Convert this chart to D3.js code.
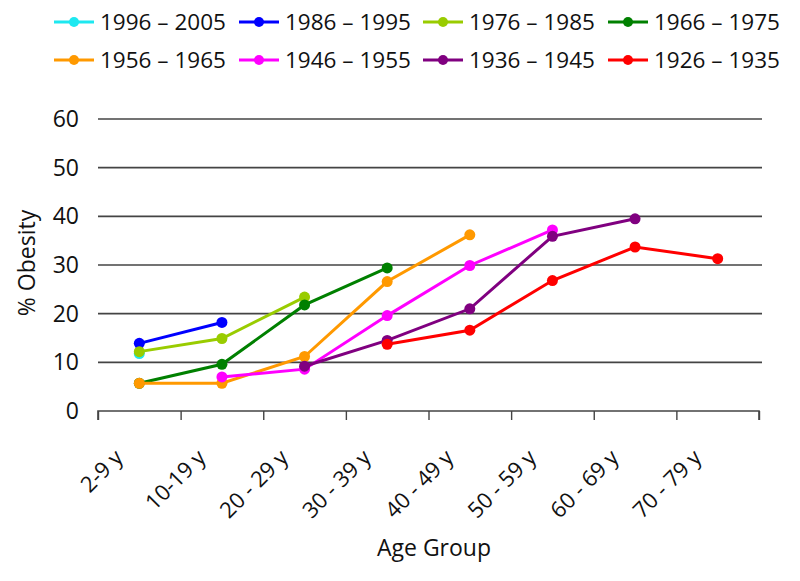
<!DOCTYPE html>
<html>
<head>
<meta charset="utf-8">
<script src="https://cdn.jsdelivr.net/npm/d3@7"></script>
<style>
  body { margin: 0; background: #fff; }
  text { font-family: "Open Sans", sans-serif; fill: #111; }
</style>
</head>
<body>
<div id="chart"></div>
<script>
// Age groups on the x axis
const ageGroups = ['2-9 y', '10-19 y', '20 - 29 y', '30 - 39 y', '40 - 49 y', '50 - 59 y', '60 - 69 y', '70 - 79 y'];
const yTicks = [0, 10, 20, 30, 40, 50, 60];

// Birth cohorts (legend order)
const cohorts = ['1996 – 2005', '1986 – 1995', '1976 – 1985', '1966 – 1975',
                 '1956 – 1965', '1946 – 1955', '1936 – 1945', '1926 – 1935'];
const cohortColors = ['#1ee8f0', '#0000ff', '#99cc00', '#008000', '#ff9900', '#ff00ff', '#800080', '#ff0000'];

// % obesity per age group, null = no data
const c1996 = [11.8, null, null, null, null, null, null, null];
const c1986 = [13.9, 18.2, null, null, null, null, null, null];
const c1976 = [12.2, 14.9, 23.4, null, null, null, null, null];
const c1966 = [5.7, 9.6, 21.8, 29.4, null, null, null, null];
const c1956 = [5.7, 5.7, 11.2, 26.6, 36.2, null, null, null];
const c1946 = [null, 7.0, 8.6, 19.6, 29.9, 37.2, null, null];
const c1936 = [null, null, 9.2, 14.5, 21.0, 35.9, 39.5, null];
const c1926 = [null, null, null, 13.7, 16.6, 26.8, 33.7, 31.3];
const seriesValues = [c1996, c1986, c1976, c1966, c1956, c1946, c1936, c1926];

const width = 800, height = 581;
const plotLeft = 98, plotRight = 759, plotTop = 119, plotBottom = 411;

const svg = d3.select('#chart').append('svg')
    .attr('width', width)
    .attr('height', height);

const x = d3.scaleBand().domain(ageGroups).range([plotLeft, plotRight]);
const xEdges = d3.scaleLinear().domain([0, ageGroups.length]).range([plotLeft, plotRight]);
const y = d3.scaleLinear().domain([0, 60]).range([plotBottom, plotTop]);

// gridlines
svg.append('g')
    .selectAll('line')
    .data(yTicks.filter(d => d > 0))
    .enter().append('line')
    .attr('x1', plotLeft).attr('x2', plotRight + 3)
    .attr('y1', d => y(d)).attr('y2', d => y(d))
    .attr('stroke', '#444').attr('stroke-width', 1.6);

// y axis labels
const yAxis = svg.append('g')
    .attr('transform', `translate(${plotLeft},0)`)
    .call(d3.axisLeft(y).tickValues(yTicks).tickSize(0).tickPadding(19));
yAxis.select('.domain').remove();
yAxis.selectAll('text').style('font-size', '23px').attr('fill', '#111');

// x axis: boundary ticks
const xAxis = svg.append('g')
    .attr('transform', `translate(0,${plotBottom})`)
    .call(d3.axisBottom(xEdges).ticks(ageGroups.length).tickSize(9).tickFormat(''));
xAxis.select('.domain').attr('stroke', '#444').attr('stroke-width', 1.6)
    .attr('d', `M${plotLeft},9V0H${plotRight}V9`);
xAxis.selectAll('.tick line').attr('stroke', '#444').attr('stroke-width', 1.4);

// x labels, rotated
svg.append('g')
    .selectAll('text')
    .data(ageGroups)
    .enter().append('text')
    .attr('transform', d => `translate(${x(d) + x.bandwidth() / 2 - 15},${plotBottom + 48}) rotate(-45)`)
    .attr('text-anchor', 'end')
    .style('font-size', '22px')
    .text(d => d);

// axis titles
svg.append('text')
    .attr('x', 434).attr('y', 556)
    .attr('text-anchor', 'middle')
    .style('font-size', '23px')
    .text('Age Group');

svg.append('text')
    .attr('transform', `translate(35,263) rotate(-90)`)
    .attr('text-anchor', 'middle')
    .style('font-size', '23px')
    .text('% Obesity');

// lines and dots
const line = d3.line()
    .defined(d => d != null)
    .x((d, i) => x(ageGroups[i]) + x.bandwidth() / 2)
    .y(d => y(d));

seriesValues.forEach((vals, s) => {
    const g = svg.append('g');
    g.append('path')
        .attr('d', line(vals))
        .attr('fill', 'none')
        .attr('stroke', cohortColors[s])
        .attr('stroke-width', 3);
    g.selectAll('circle')
        .data(vals.map((v, i) => ({v, i})).filter(d => d.v != null))
        .enter().append('circle')
        .attr('cx', d => x(ageGroups[d.i]) + x.bandwidth() / 2)
        .attr('cy', d => y(d.v))
        .attr('r', 5.5)
        .attr('fill', cohortColors[s]);
});

// legend, 2 rows x 4 columns
const legendX = [54, 239, 423, 608];
const legendY = [22, 60];
const legend = svg.append('g');
cohorts.forEach((c, i) => {
    const lx = legendX[i % 4], ly = legendY[Math.floor(i / 4)];
    legend.append('line')
        .attr('x1', lx).attr('x2', lx + 40)
        .attr('y1', ly).attr('y2', ly)
        .attr('stroke', cohortColors[i]).attr('stroke-width', 3);
    legend.append('circle')
        .attr('cx', lx + 20).attr('cy', ly).attr('r', 5)
        .attr('fill', cohortColors[i]);
    legend.append('text')
        .attr('x', lx + 46).attr('y', ly + 8)
        .style('font-size', '22.5px')
        .text(c);
});
</script>
</body>
</html>
